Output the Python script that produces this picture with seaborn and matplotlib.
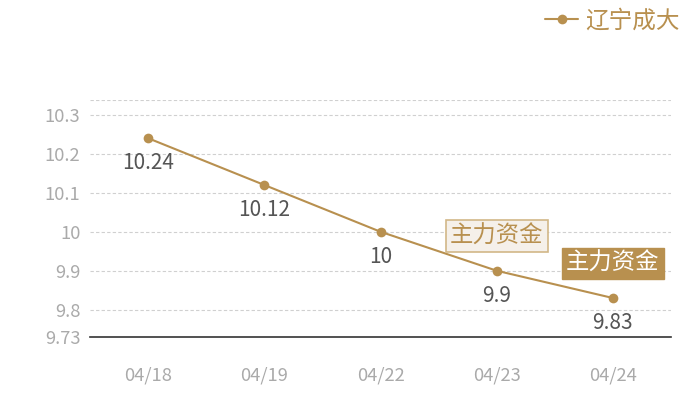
import matplotlib
matplotlib.use("Agg")
import matplotlib.pyplot as plt
import seaborn as sns
import pandas as pd
from matplotlib.lines import Line2D

dates = ["04/18", "04/19", "04/22", "04/23", "04/24"]
prices = [10.24, 10.12, 10.0, 9.9, 9.83]
price_labels = ["10.24", "10.12", "10", "9.9", "9.83"]
series_name = "辽宁成大"
yticks = [9.73, 9.8, 9.9, 10.0, 10.1, 10.2, 10.3]
ytick_labels = ["9.73", "9.8", "9.9", "10", "10.1", "10.2", "10.3"]
flag_text = "主力资金"
flag_light_idx = 3
flag_dark_idx = 4

sns.set_theme(style="white")
plt.rcParams['font.family'] = ['Noto Sans CJK SC', 'DejaVu Sans']

gold = "#b8904f"
df = pd.DataFrame({"date": dates, "price": prices})

fig = plt.figure(figsize=(7, 4), dpi=100)
ax = fig.add_axes([90/700, 1-337/400, (671-90)/700, (337-100)/400])

sns.lineplot(data=df, x="date", y="price", ax=ax, color=gold, linewidth=1.5,
             marker="o", markersize=7, markeredgewidth=0, sort=False)

ax.set_xlim(-0.5, 4.5)
ax.set_ylim(9.73, 10.338)
ax.set_yticks(yticks)
ax.set_yticklabels(ytick_labels)
for y in yticks[1:] + [10.338]:
    ax.axhline(y, color="#d0d0d0", linestyle=(0, (3, 2)), linewidth=0.8, zorder=0)
for s in ["top", "right", "left"]:
    ax.spines[s].set_visible(False)
ax.spines["bottom"].set_color("#333333")
ax.spines["bottom"].set_linewidth(1.2)
ax.tick_params(axis="both", length=0, labelsize=13.2, labelcolor="#aaaaaa")
ax.tick_params(axis="x", pad=21)
ax.tick_params(axis="y", pad=7)
ax.set_xlabel("")
ax.set_ylabel("")

for i, (p, lab) in enumerate(zip(prices, price_labels)):
    ax.annotate(lab, (i, p), xytext=(0, -10), textcoords="offset points",
                ha="center", va="top", fontsize=15, color="#555555")

ax.annotate(flag_text, (flag_light_idx, prices[flag_light_idx]), xytext=(0, 25),
            textcoords="offset points", ha="center", va="center", fontsize=16.8,
            color=gold, bbox=dict(boxstyle="square,pad=0.18", fc="#f5f0ea", ec="#d2b788", lw=1.2))
ax.annotate(flag_text, (flag_dark_idx, prices[flag_dark_idx]), xytext=(0, 25),
            textcoords="offset points", ha="center", va="center", fontsize=16.8,
            color="white", bbox=dict(boxstyle="square,pad=0.18", fc=gold, ec=gold, lw=1))

handle = Line2D([0], [0], color=gold, marker="o", markersize=7, linewidth=1.5, markeredgewidth=0)
leg = fig.legend([handle], [series_name], loc="upper right", bbox_to_anchor=(0.985, 1.0),
                 frameon=False, fontsize=17, handlelength=1.4, handletextpad=0.3,
                 borderaxespad=0.0)
for t in leg.get_texts():
    t.set_color(gold)

fig.savefig("out.png", dpi=100)
